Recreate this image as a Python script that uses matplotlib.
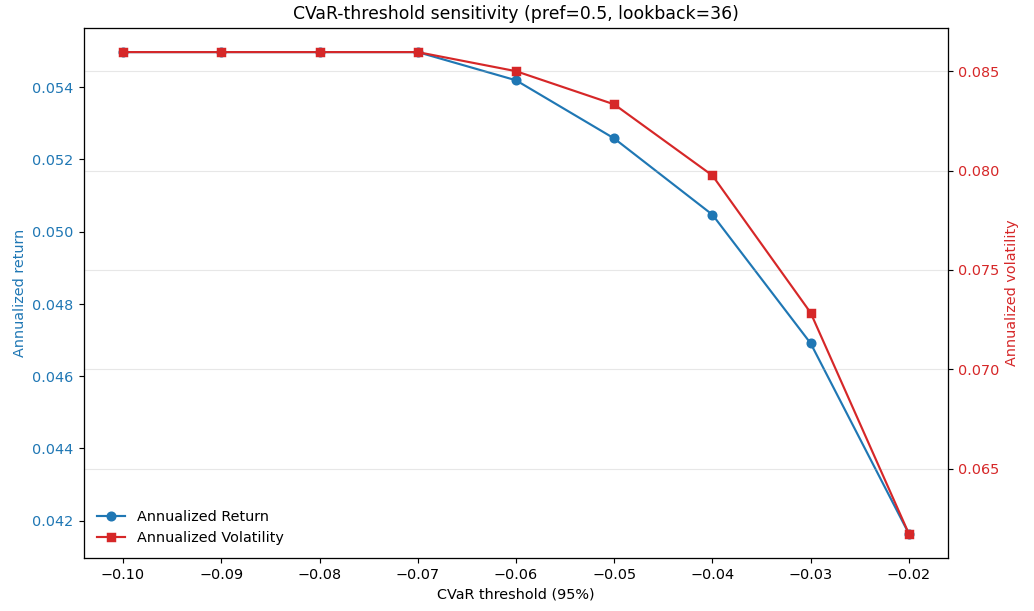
import matplotlib
matplotlib.use('Agg')
import matplotlib.pyplot as plt

thresholds = [-0.10, -0.09, -0.08, -0.07, -0.06, -0.05, -0.04, -0.03, -0.02]
ann_return = [0.05497, 0.05497, 0.05497, 0.05497, 0.05419, 0.05258, 0.05047, 0.04691, 0.04164]
ann_vol = [0.08596, 0.08596, 0.08596, 0.08596, 0.0850, 0.08333, 0.07975, 0.07284, 0.06172]

fig, ax = plt.subplots(figsize=(10.0, 5.91), dpi=103.4)
fig.subplots_adjust(left=0.081, right=0.917, top=0.954, bottom=0.087)

l1, = ax.plot(thresholds, ann_return, color='tab:blue', marker='o', label='Annualized Return')
ax.set_xlabel('CVaR threshold (95%)')
ax.set_ylabel('Annualized return', color='tab:blue')
ax.tick_params(axis='y', labelcolor='tab:blue')

ax2 = ax.twinx()
l2, = ax2.plot(thresholds, ann_vol, color='tab:red', marker='s', label='Annualized Volatility')
ax2.set_ylabel('Annualized volatility', color='tab:red')
ax2.tick_params(axis='y', labelcolor='tab:red')
ax2.grid(True, axis='y', alpha=0.3)

ax.legend([l1, l2], [l1.get_label(), l2.get_label()], loc='lower left', frameon=False)
ax.set_title('CVaR-threshold sensitivity (pref=0.5, lookback=36)')

fig.savefig('out.png')
